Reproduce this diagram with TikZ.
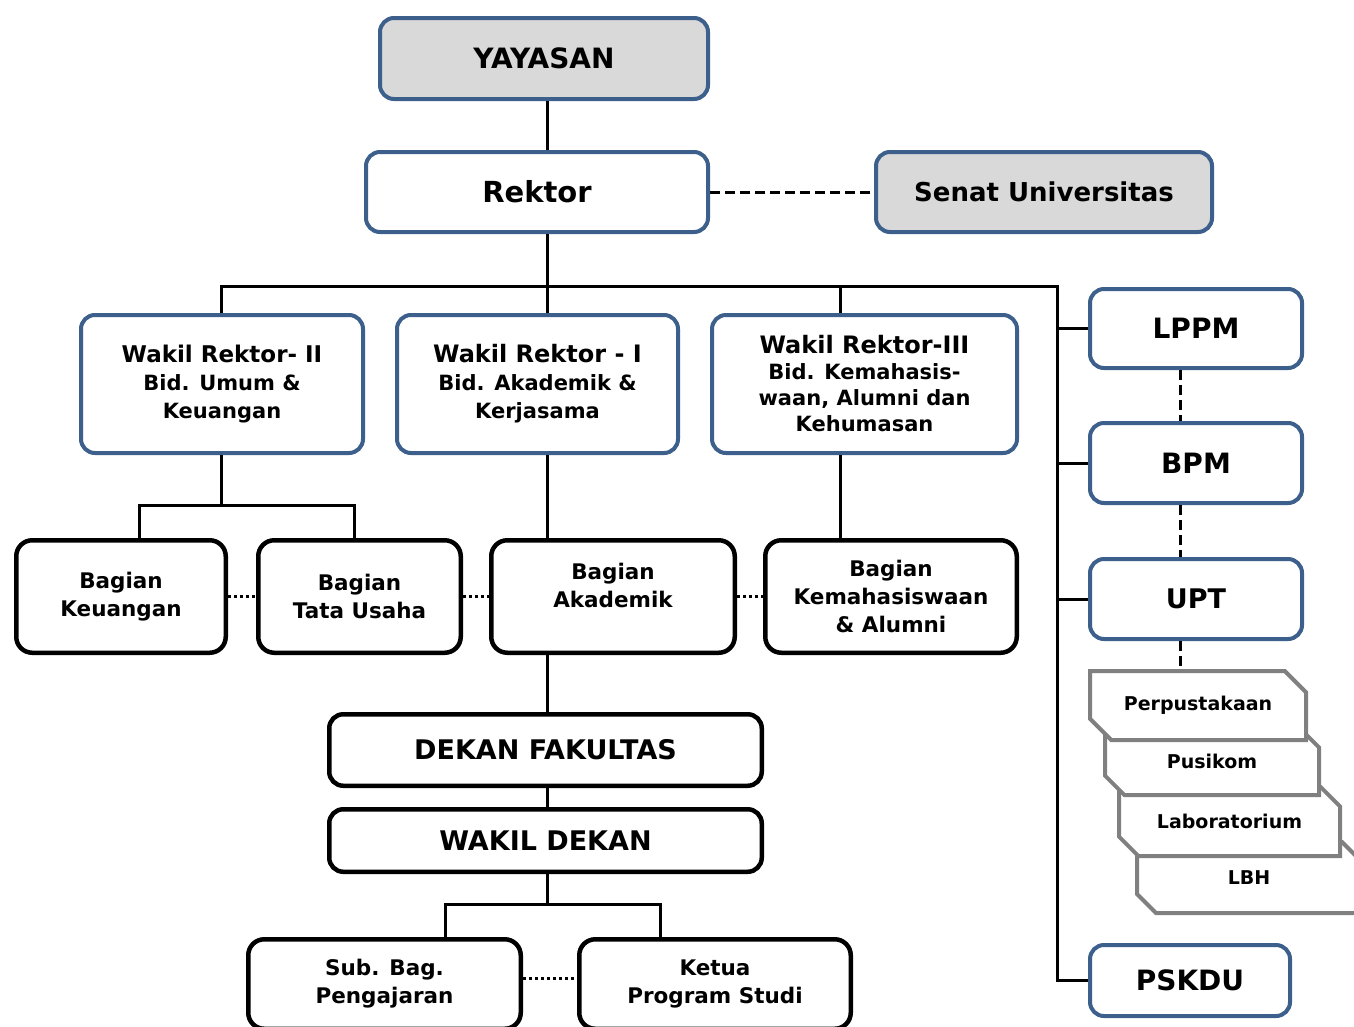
\documentclass[tikz,border=0pt]{standalone}
\usepackage{fontspec}
\setmainfont{DejaVu Sans}
\usetikzlibrary{shapes.misc}
\definecolor{orgblue}{RGB}{60,95,140}
\definecolor{orggrey}{RGB}{217,217,217}
\definecolor{unitgrey}{RGB}{128,128,128}
\newcommand\orgsize[2]{\fontsize{#1}{#2}\selectfont\bfseries}
\tikzset{
  bluebox/.style={draw=orgblue, line width=4pt, rounded corners=14pt, fill=white,
    align=center, inner sep=0pt},
  greybox/.style={bluebox, fill=orggrey},
  blackbox/.style={draw=black, line width=4.5pt, rounded corners=16pt, fill=white,
    align=center, inner sep=0pt},
  unitbox/.style={chamfered rectangle, chamfered rectangle corners={north east,south west},
    chamfered rectangle xsep=12pt, chamfered rectangle ysep=12pt,
    draw=unitgrey, line width=4pt, fill=white, inner sep=0pt, font=\orgsize{19}{23}},
  conn/.style={line width=3pt},
  dashconn/.style={line width=3pt, dash pattern=on 10pt off 5pt},
  dotconn/.style={line width=3pt, dash pattern=on 3pt off 3pt}
}
\begin{document}
\begin{tikzpicture}[x=1pt,y=-1pt]
  \useasboundingbox (0,0) rectangle (1354,1026);
  % pimpinan
  \node[greybox, minimum width=328pt, minimum height=81pt, font=\orgsize{28}{32}]
    (yayasan) at (544,58.5) {YAYASAN};
  \node[bluebox, minimum width=342pt, minimum height=80pt, font=\orgsize{29}{33}]
    (rektor) at (537,192) {Rektor};
  \node[greybox, minimum width=336pt, minimum height=80pt, font=\orgsize{26}{30}]
    (senat) at (1044,192) {Senat Universitas};

  % wakil rektor
  \node[bluebox, minimum width=282pt, minimum height=138pt, font=\orgsize{21}{28}]
    (wr2) at (222,384) {{\orgsize{23}{28}Wakil Rektor- II}\\Bid. Umum \&\\Keuangan};
  \node[bluebox, minimum width=281pt, minimum height=138pt, font=\orgsize{21}{28}]
    (wr1) at (537.5,384) {{\orgsize{24}{28}Wakil Rektor - I}\\Bid. Akademik \&\\Kerjasama};
  \node[bluebox, minimum width=305pt, minimum height=138pt, font=\orgsize{21}{26}]
    (wr3) at (864.5,384) {{\orgsize{24}{28}Wakil Rektor-III}\\Bid. Kemahasis-\\waan, Alumni dan\\Kehumasan};

  % bagian
  \node[blackbox, minimum width=209.5pt, minimum height=112.5pt, font=\orgsize{21.5}{28}]
    (bkeu) at (121,596.5) {Bagian\\Keuangan};
  \node[blackbox, minimum width=202.5pt, minimum height=112.5pt, font=\orgsize{21.5}{28}]
    (btu) at (359.5,596.5) {Bagian\\Tata Usaha};
  \node[blackbox, minimum width=243.5pt, minimum height=112.5pt, font=\orgsize{21.5}{28}]
    (bak) at (613,596.5) {Bagian\\Akademik\\[-6pt]~};
  \node[blackbox, minimum width=251.5pt, minimum height=112.5pt, font=\orgsize{21.5}{28}]
    (bkem) at (891,596.5) {Bagian\\Kemahasiswaan\\\& Alumni};

  % fakultas
  \node[blackbox, rounded corners=14pt, minimum width=432.5pt, minimum height=71.5pt,
    font=\orgsize{27}{31}] (dekan) at (545.5,750) {DEKAN FAKULTAS};
  \node[blackbox, rounded corners=14pt, minimum width=432.5pt, minimum height=62.5pt,
    font=\orgsize{27}{31}] (wadek) at (545.5,840.5) {WAKIL DEKAN};
  \node[blackbox, minimum width=272.5pt, minimum height=89.5pt, font=\orgsize{21.5}{28}]
    (subbag) at (384.5,984) {Sub. Bag.\\Pengajaran};
  \node[blackbox, minimum width=271.5pt, minimum height=89.5pt, font=\orgsize{21.5}{28}]
    (kaprodi) at (715,984) {Ketua\\Program Studi};

  % lembaga
  \node[bluebox, minimum width=212pt, minimum height=79pt, font=\orgsize{28}{32}]
    (lppm) at (1196,328.5) {LPPM};
  \node[bluebox, minimum width=212pt, minimum height=80pt, font=\orgsize{28}{32}]
    (bpm) at (1196,463) {BPM};
  \node[bluebox, minimum width=212pt, minimum height=80pt, font=\orgsize{27}{32}]
    (upt) at (1196,599) {UPT};
  \node[bluebox, minimum width=200pt, minimum height=71pt, font=\orgsize{28}{32}]
    (pskdu) at (1190,980.5) {PSKDU};

  % unit pelaksana teknis
  \node[unitbox, minimum width=224pt, minimum height=71pt] (lbh) at (1249,877.5) {LBH};
  \node[unitbox, minimum width=221pt, minimum height=69pt] (lab) at (1229.5,821.5) {Laboratorium};
  \node[unitbox, minimum width=214pt, minimum height=67pt] (pusikom) at (1212,761.5) {Pusikom};
  \node[unitbox, minimum width=216pt, minimum height=69pt] (perpus) at (1198,705.5) {Perpustakaan};

  \coordinate (bus) at (547,286);
  \coordinate (rbus) at (1057,286);
  \coordinate (wr3top) at (840,286);
  \coordinate (wr2fork) at (221,505);
  \coordinate (keufork) at (139,505);
  \coordinate (tufork) at (354,505);
  \coordinate (dekfork) at (547,904);
  \coordinate (pengfork) at (445,904);
  \coordinate (prodifork) at (660,904);
  \coordinate (sidedash) at (1180,0);

  \draw[conn] (yayasan.south -| bus) -- (rektor.north -| bus);
  \draw[conn] (rektor.south -| bus) -- (bus);
  \draw[conn] (wr2.north -| wr2fork) -- (wr2fork |- bus) -- (rbus) |- (pskdu.west);
  \draw[conn] (bus) -- (wr1.north -| bus);
  \draw[conn] (wr3top) -- (wr3.north -| wr3top);
  \foreach \u in {lppm,bpm,upt}
    \draw[conn] (\u.west -| rbus) -- (\u.west);

  \draw[conn] (wr2.south -| wr2fork) -- (wr2fork);
  \draw[conn] (bkeu.north -| keufork) -- (keufork) -- (tufork) -- (btu.north -| tufork);
  \draw[conn] (wr1.south -| bus) -- (bak.north -| bus);
  \draw[conn] (wr3.south -| wr3top) -- (bkem.north -| wr3top);
  \draw[conn] (bak.south -| bus) -- (dekan.north -| bus);
  \draw[conn] (dekan.south -| bus) -- (wadek.north -| bus);
  \draw[conn] (wadek.south -| dekfork) -- (dekfork);
  \draw[conn] (subbag.north -| pengfork) -- (pengfork) -- (prodifork) -- (kaprodi.north -| prodifork);

  \draw[dotconn] (bkeu.east) -- (btu.west);
  \draw[dotconn] (btu.east) -- (bak.west);
  \draw[dotconn] (bak.east) -- (bkem.west);
  \draw[dotconn] ([yshift=6pt]subbag.east) -- ([yshift=6pt]kaprodi.west);

  \draw[dashconn] (rektor.east) -- (senat.west);
  \draw[dashconn] (lppm.south -| sidedash) -- (bpm.north -| sidedash);
  \draw[dashconn] (bpm.south -| sidedash) -- (upt.north -| sidedash);
  \draw[dashconn] (upt.south -| sidedash) -- (perpus.north -| sidedash);
\end{tikzpicture}
\end{document}
